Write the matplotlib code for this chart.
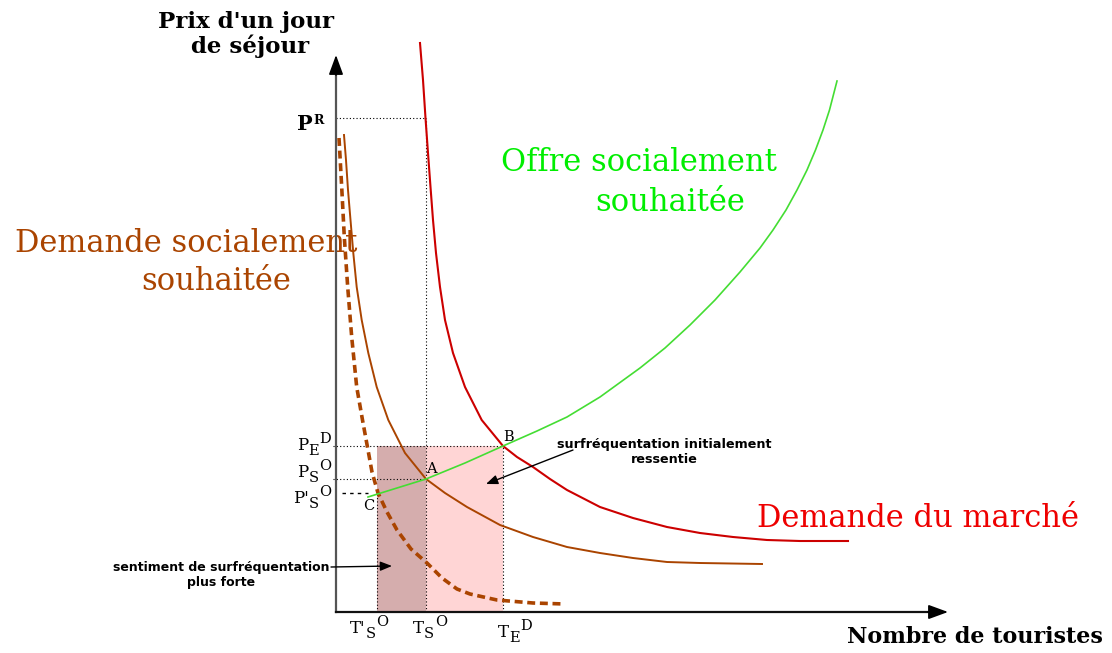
import matplotlib
matplotlib.use("Agg")
import matplotlib.pyplot as plt
from matplotlib.patches import Rectangle

# ---- data (x = number of tourists, y = price of one day) ----
# market demand (red)
dm_x = [84, 87, 89.5, 92, 94.5, 97, 100, 104, 109, 117, 129, 145.7, 167, 181, 197, 214,
        231, 264, 297, 331, 364, 397, 431, 464, 512]
dm_y = [569, 532, 494, 459, 425, 392, 359, 325, 292, 259, 225, 192, 166, 155, 145, 133,
        122, 105, 94, 85, 79, 75, 72, 71, 71]

# socially desired demand (brown, solid)
ds_x = [8, 10, 12, 14.5, 17.3, 20.7, 25.7, 32.3, 40.7, 52.3, 69, 90, 109, 131, 164, 197, 231, 264,
        297, 331, 364, 426]
ds_y = [477, 452, 422, 392, 359, 325, 292, 259, 225, 192, 159, 133, 119, 105, 87, 75, 65, 59,
        54, 50, 49, 48]

# stronger feeling of overcrowding (brown, dashed)
dd_x = [3, 5.7, 8.3, 11.7, 15.7, 20.7, 26.5, 32, 36, 42, 51, 61, 75, 91, 106, 121, 134, 161, 197, 229]
dd_y = [474, 425, 375, 325, 275, 225, 192, 162, 140, 119, 100, 82, 63, 49, 34, 23, 18, 12, 9, 8]

# socially desired supply (green)
of_x = [32, 90, 129, 167, 201, 231, 264, 304, 329, 354, 379, 404, 424, 437, 450, 461, 471,
        479.5, 487, 493.5, 501]
of_y = [115, 133, 149, 166, 181, 195, 215, 244, 264, 287, 312, 340, 364, 382, 402, 422, 442,
        462, 482, 502, 531]

# key levels
t_s2 = 41     # T'S^O
t_s = 90      # TS^O
t_e = 167     # TE^D
p_e = 166     # PE^D
p_s = 133     # PS^O
p_s2 = 119    # P'S^O
p_r = 494     # P^R

x_max = 612
y_max = 557

RED = "#cc0000"
BROWN = "#aa4400"
GREEN = "#44dd33"
SERIF = "DejaVu Serif"

fig = plt.figure(figsize=(11.12, 6.53), dpi=100)
ax = fig.add_axes([0, 0, 1, 1])
ax.set_xlim(-336, 776)
ax.set_ylim(-41, 612)
ax.axis("off")


def level_label(x, y, main, sub, sup, size=12, small=10.5, weight="normal",
                sub_dy=-3, sup_dy=6):
    # letter with a lowered index and a raised exponent, as in the original drawing
    m = ax.text(x, y, main, family=SERIF, fontsize=size, weight=weight, ha="left", va="baseline", zorder=6)
    anchor = m
    if sub:
        anchor = ax.annotate(sub, xy=(1, 0), xycoords=m, xytext=(0, sub_dy), textcoords="offset points",
                             family=SERIF, fontsize=small, weight=weight, ha="left", va="bottom", zorder=6)
    ax.annotate(sup, xy=(1, 0), xycoords=(anchor, m), xytext=(0.5, sup_dy), textcoords="offset points",
                family=SERIF, fontsize=small, weight=weight, ha="left", va="bottom", zorder=6)


# shaded areas
ax.add_patch(Rectangle((t_s2, 0), t_s - t_s2, p_e, facecolor="#d5adad", edgecolor="none", zorder=1))
ax.add_patch(Rectangle((t_s, 0), t_e - t_s, p_e, facecolor="#ffd5d5", edgecolor="none", zorder=1))

# guide lines
dot = dict(color="black", lw=0.8, ls=(0, (1, 2)), zorder=2)
ax.plot([0, t_s], [p_r, p_r], **dot)
ax.plot([t_s, t_s], [0, p_r], **dot)
ax.plot([-3, t_e], [p_e, p_e], **dot)
ax.plot([t_e, t_e], [0, p_e], **dot)
ax.plot([-3, t_s], [p_s, p_s], **dot)
ax.plot([t_s2, t_s2], [0, p_s2], **dot)
ax.plot([6, 32], [p_s2, p_s2], color="black", lw=1, ls=(0, (2.5, 3)), zorder=2)

# curves
ax.plot(dm_x, dm_y, color=RED, lw=1.5, zorder=3)
ax.plot(ds_x, ds_y, color=BROWN, lw=1.4, zorder=3)
ax.plot(dd_x, dd_y, color=BROWN, lw=2.6, ls=(0, (2.2, 1.3)), zorder=3)
ax.plot(of_x, of_y, color=GREEN, lw=1.2, zorder=3)

# axes with arrows
ax.plot([0, 0], [0, y_max - 10], color="#555555", lw=1.6, zorder=4)
ax.plot([0, x_max - 10], [0, 0], color="#111111", lw=1.6, zorder=4)
head = dict(arrowstyle="-|>,head_length=0.6,head_width=0.22", color="black", lw=1.2,
            mutation_scale=20, shrinkA=0, shrinkB=0)
ax.annotate("", xy=(0, y_max), xytext=(0, y_max - 20), arrowprops=head, zorder=5)
ax.annotate("", xy=(x_max, 0), xytext=(x_max - 20, 0), arrowprops=head, zorder=5)

# axis titles
ax.text(-90, 584, "Prix d'un jour", family=SERIF, weight="bold", fontsize=16.5, ha="center", va="baseline")
ax.text(-86, 559, "de séjour", family=SERIF, weight="bold", fontsize=16.5, ha="center", va="baseline")
ax.text(639, -31, "Nombre de touristes", family=SERIF, weight="bold", fontsize=16, ha="center", va="baseline")

# curve names
ax.text(303, 441, "Offre socialement", family=SERIF, color="#00ee00", fontsize=22, ha="center", va="baseline")
ax.text(334, 401, "souhaitée", family=SERIF, color="#00ee00", fontsize=22, ha="center", va="baseline")
ax.text(-150, 360, "Demande socialement", family=SERIF, color=BROWN, fontsize=22, ha="center", va="baseline")
ax.text(-120, 322, "souhaitée", family=SERIF, color=BROWN, fontsize=22, ha="center", va="baseline")
ax.text(582, 85, "Demande du marché", family=SERIF, color="#ee0000", fontsize=22, ha="center", va="baseline")

# level labels
level_label(-39, 482, "P", None, "R", size=15, small=9, weight="bold", sup_dy=5)
level_label(-39, 162, "P", "E", "D")
level_label(-39, 135, "P", "S", "O")
level_label(-43, 109, "P'", "S", "O")
level_label(14, -21, "T'", "S", "O")
level_label(77, -21, "T", "S", "O")
level_label(162, -25, "T", "E", "D")
ax.text(95, 139, "A", family=SERIF, fontsize=10.5, ha="center", va="baseline")
ax.text(173, 171, "B", family=SERIF, fontsize=10.5, ha="center", va="baseline")
ax.text(33, 102, "C", family=SERIF, fontsize=10.5, ha="center", va="baseline")

# notes
note = dict(arrowstyle="-|>,head_length=0.5,head_width=0.2", color="black", lw=1,
            mutation_scale=14, shrinkA=0, shrinkB=0)
ax.text(328, 160, "surfréquentation initialement\nressentie",
        fontsize=9.2, weight="bold", ha="center", va="center", zorder=6)
ax.annotate("", xy=(150, 128), xytext=(237, 162), arrowprops=note, zorder=6)
ax.text(-115, 37, "sentiment de surfréquentation\nplus forte",
        fontsize=9, weight="bold", ha="center", va="center", zorder=6)
ax.annotate("", xy=(56, 46), xytext=(-5, 45), arrowprops=note, zorder=6)

fig.savefig("out.png", dpi=100)
